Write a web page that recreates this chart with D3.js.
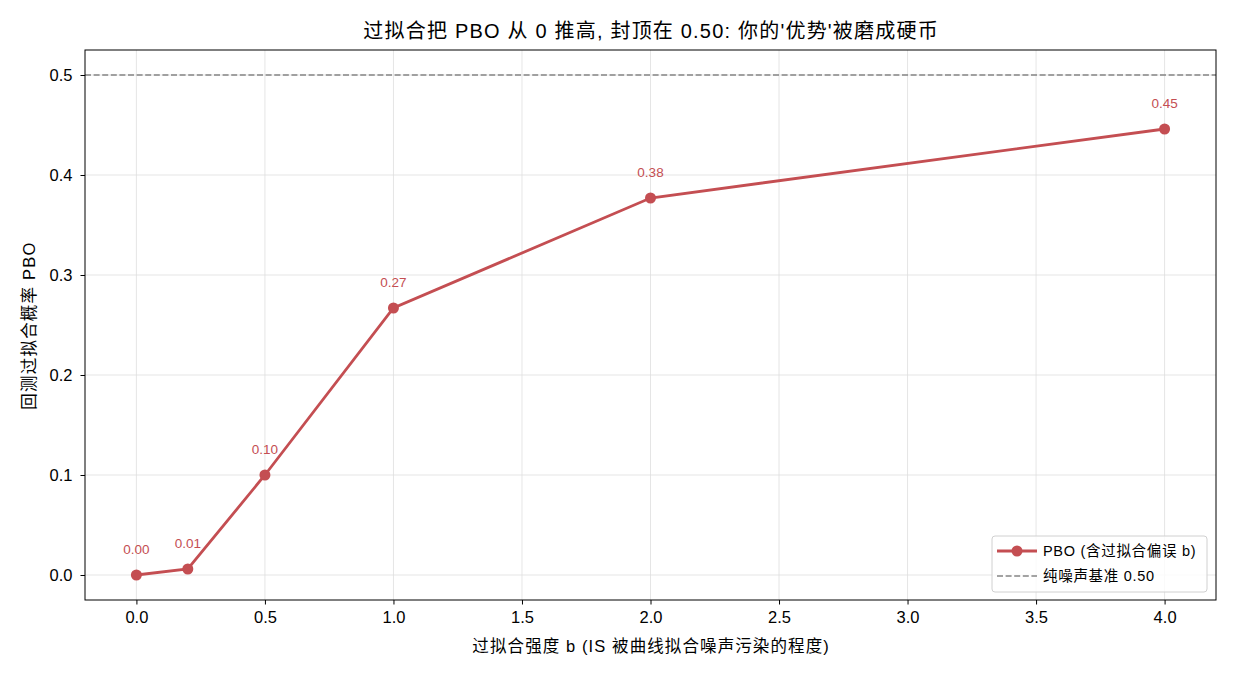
<!DOCTYPE html>
<html>
<head>
<meta charset="utf-8">
<script src="https://cdn.jsdelivr.net/npm/d3@7"></script>
<style>
  body { margin: 0; background: #fff; }
  svg text { font-family: "Liberation Sans", Arial, "Noto Sans CJK SC", sans-serif; }
</style>
</head>
<body>
<div id="chart"></div>
<script>
var biasLevels = [0, 0.2, 0.5, 1.0, 2.0, 4.0];
var pboValues = [0.0, 0.006, 0.100, 0.267, 0.377, 0.446];
var xTicks = [0, 0.5, 1, 1.5, 2, 2.5, 3, 3.5, 4];
var yTicks = [0, 0.1, 0.2, 0.3, 0.4, 0.5];
var baseline = 0.5;

var titleText = "过拟合把 PBO 从 0 推高, 封顶在 0.50: 你的'优势'被磨成硬币";
var xLabel = "过拟合强度 b (IS 被曲线拟合噪声污染的程度)";
var yLabel = "回测过拟合概率 PBO";
var seriesName = "PBO (含过拟合偏误 b)";
var baselineName = "纯噪声基准 0.50";

var width = 1235, height = 676;
var margin = {left: 85, right: 19, top: 50, bottom: 76};
var red = "#c44e52";
var grey = "#858585";

var svg = d3.select("#chart").append("svg")
  .attr("width", width).attr("height", height);

var x = d3.scaleLinear().domain([-0.2, 4.2]).range([margin.left, width - margin.right]);
var y = d3.scaleLinear().domain([-0.025, 0.525]).range([height - margin.bottom, margin.top]);

var plot = svg.append("g");

// grid
plot.selectAll("line.vgrid").data(xTicks).enter().append("line")
  .attr("x1", function(d) { return x(d); }).attr("x2", function(d) { return x(d); })
  .attr("y1", y.range()[1]).attr("y2", y.range()[0])
  .attr("stroke", "#dedede").attr("stroke-width", 0.8);
plot.selectAll("line.hgrid").data(yTicks).enter().append("line")
  .attr("x1", x.range()[0]).attr("x2", x.range()[1])
  .attr("y1", function(d) { return y(d); }).attr("y2", function(d) { return y(d); })
  .attr("stroke", "#dedede").attr("stroke-width", 0.8);

// baseline
plot.append("line")
  .attr("x1", x.range()[0]).attr("x2", x.range()[1])
  .attr("y1", y(baseline)).attr("y2", y(baseline))
  .attr("stroke", grey).attr("stroke-width", 1.6)
  .attr("stroke-dasharray", "6,2.6");

// line + points
var pts = biasLevels.map(function(b, i) { return {b: b, v: pboValues[i]}; });
plot.append("path").datum(pts)
  .attr("d", d3.line().x(function(d) { return x(d.b); }).y(function(d) { return y(d.v); }))
  .attr("fill", "none").attr("stroke", red).attr("stroke-width", 2.8);
plot.selectAll("circle.pt").data(pts).enter().append("circle")
  .attr("cx", function(d) { return x(d.b); }).attr("cy", function(d) { return y(d.v); })
  .attr("r", 5.5).attr("fill", red);
plot.selectAll("text.lbl").data(pts).enter().append("text")
  .attr("x", function(d) { return x(d.b); }).attr("y", function(d) { return y(d.v) - 21; })
  .attr("text-anchor", "middle").attr("font-size", 13.5)
  .attr("fill", red)
  .text(function(d) { return d.v.toFixed(2); });

// axes
var xAxis = svg.append("g").attr("transform", "translate(0," + y.range()[0] + ")")
  .call(d3.axisBottom(x).tickValues(xTicks).tickFormat(d3.format(".1f")).tickSizeOuter(0).tickSize(4.5).tickPadding(5));
var yAxis = svg.append("g").attr("transform", "translate(" + x.range()[0] + ",0)")
  .call(d3.axisLeft(y).tickValues(yTicks).tickFormat(d3.format(".1f")).tickSizeOuter(0).tickSize(4.5).tickPadding(8));
[xAxis, yAxis].forEach(function(a) {
  a.select(".domain").remove();
  a.selectAll("text").attr("font-size", 16.5).attr("fill", "#000")
    .style("font-family", "'Liberation Sans', Arial, sans-serif");
  a.selectAll("line").attr("stroke", "#000").attr("stroke-width", 1);
});
xAxis.selectAll("text").attr("dy", "0.8em");

svg.append("rect")
  .attr("x", x.range()[0]).attr("y", y.range()[1])
  .attr("width", x.range()[1] - x.range()[0]).attr("height", y.range()[0] - y.range()[1])
  .attr("fill", "none").attr("stroke", "#000").attr("stroke-width", 1);

// titles
svg.append("text").attr("x", (x.range()[0] + x.range()[1]) / 2 + 0.6).attr("y", 38)
  .attr("text-anchor", "middle").attr("font-size", 20).attr("letter-spacing", 1.2)
  .text(titleText);
svg.append("text").attr("x", (x.range()[0] + x.range()[1]) / 2 + 0.6).attr("y", 652)
  .attr("text-anchor", "middle").attr("font-size", 16.5).attr("letter-spacing", 1.1)
  .text(xLabel);
svg.append("text").attr("transform", "translate(35," + ((y.range()[0] + y.range()[1]) / 2 + 0.6) + ") rotate(-90)")
  .attr("text-anchor", "middle").attr("font-size", 16.5).attr("letter-spacing", 1.2)
  .text(yLabel);

// legend
var lg = svg.append("g").attr("transform", "translate(992,536)");
lg.append("rect").attr("width", 215).attr("height", 56).attr("rx", 3)
  .attr("fill", "#fff").attr("fill-opacity", 0.8).attr("stroke", "#d0d0d0");
lg.append("line").attr("x1", 5).attr("x2", 45).attr("y1", 15).attr("y2", 15)
  .attr("stroke", red).attr("stroke-width", 2.8);
lg.append("circle").attr("cx", 25).attr("cy", 15).attr("r", 5.5).attr("fill", red);
lg.append("text").attr("x", 51).attr("y", 20).attr("font-size", 14.5).attr("letter-spacing", 0.7)
  .text(seriesName);
lg.append("line").attr("x1", 5).attr("x2", 45).attr("y1", 40).attr("y2", 40)
  .attr("stroke", grey).attr("stroke-width", 1.6).attr("stroke-dasharray", "6,2.6");
lg.append("text").attr("x", 51).attr("y", 45).attr("font-size", 14.5).attr("letter-spacing", 0.7)
  .text(baselineName);
</script>
</body>
</html>
